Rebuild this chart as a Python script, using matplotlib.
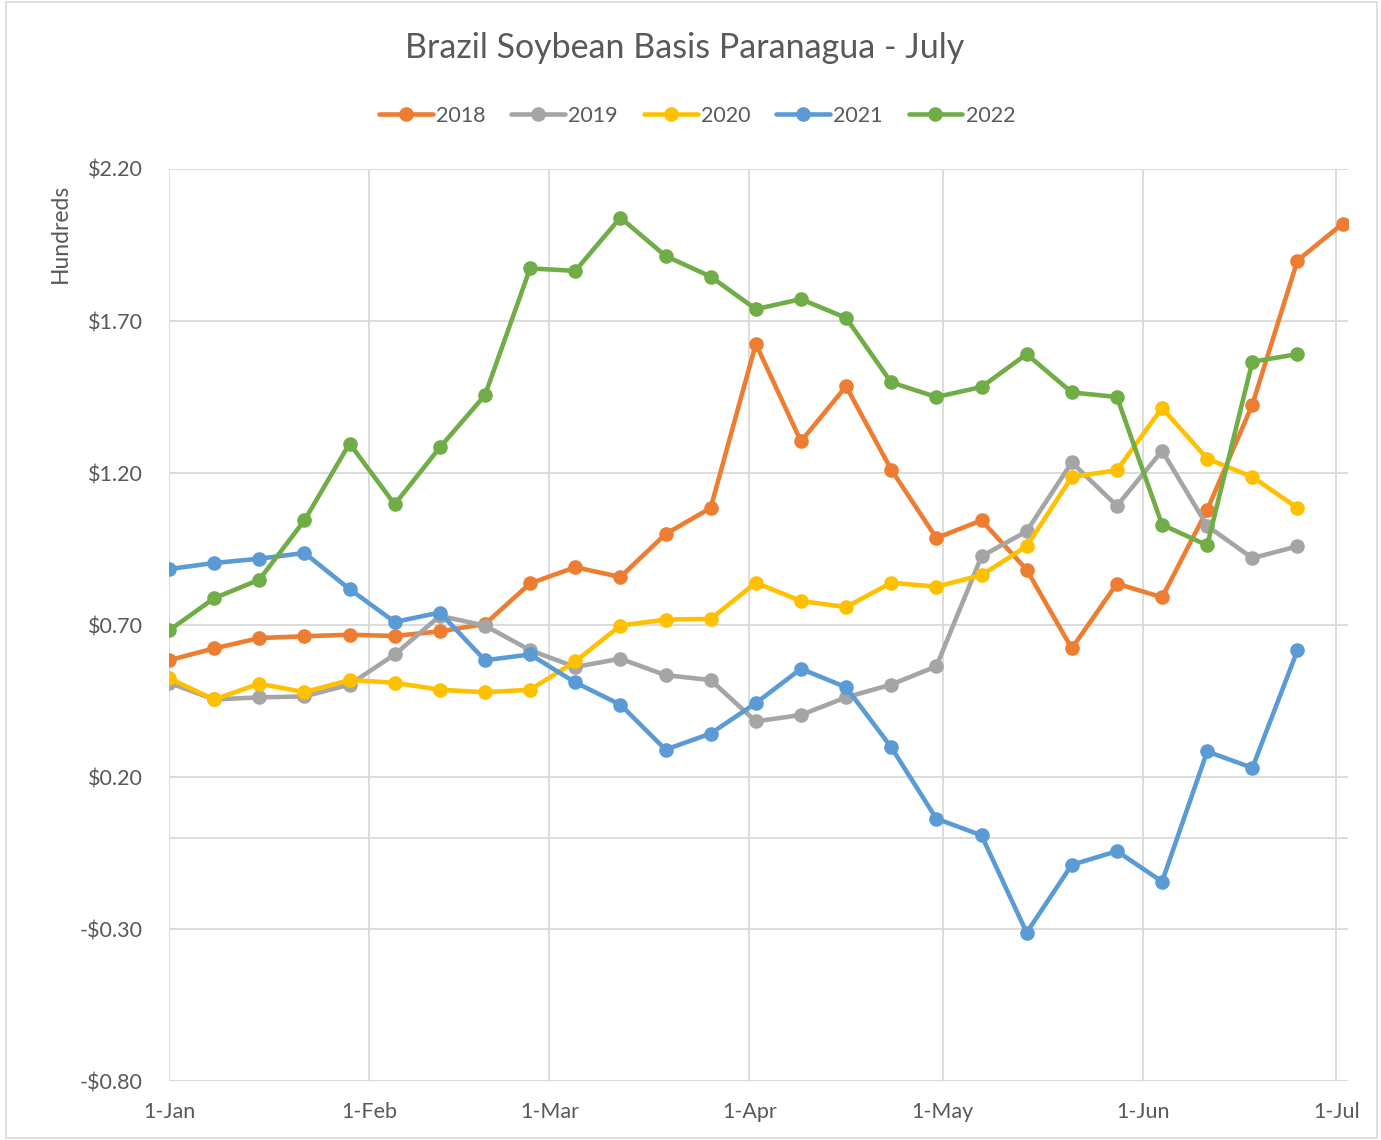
import matplotlib.pyplot as plt
import matplotlib.patches as patches
import numpy as np

plt.rcParams['font.family'] = ['Lato', 'DejaVu Sans']

# weekly observation dates (plotted on a common Jan-Jul axis)
dates = ["2022-01-01", "2022-01-08", "2022-01-15", "2022-01-22", "2022-01-29",
         "2022-02-05", "2022-02-12", "2022-02-19", "2022-02-26", "2022-03-05",
         "2022-03-12", "2022-03-19", "2022-03-26", "2022-04-02", "2022-04-09",
         "2022-04-16", "2022-04-23", "2022-04-30", "2022-05-07", "2022-05-14",
         "2022-05-21", "2022-05-28", "2022-06-04", "2022-06-11", "2022-06-18",
         "2022-06-25", "2022-07-02"]

basis_2018 = [0.584, 0.623, 0.657, 0.663, 0.668, 0.664, 0.679, 0.703, 0.837, 0.890,
              0.858, 0.999, 1.085, 1.625, 1.304, 1.485, 1.211, 0.986, 1.044, 0.882,
              0.623, 0.836, 0.791, 1.079, 1.425, 1.899, 2.020]
basis_2019 = [0.510, 0.455, 0.462, 0.465, 0.504, 0.603, 0.730, 0.698, 0.617, 0.562,
              0.589, 0.535, 0.519, 0.383, 0.404, 0.462, 0.504, 0.564, 0.926, 1.008,
              1.235, 1.092, 1.273, 1.026, 0.920, 0.959]
basis_2020 = [0.525, 0.455, 0.507, 0.479, 0.519, 0.510, 0.487, 0.479, 0.487, 0.580,
              0.698, 0.718, 0.720, 0.839, 0.779, 0.759, 0.839, 0.826, 0.864, 0.959,
              1.187, 1.209, 1.414, 1.247, 1.187, 1.085]
basis_2021 = [0.884, 0.904, 0.918, 0.937, 0.818, 0.710, 0.741, 0.584, 0.603, 0.511,
              0.438, 0.290, 0.343, 0.443, 0.556, 0.495, 0.298, 0.063, 0.008, -0.312,
              -0.089, -0.044, -0.144, 0.284, 0.230, 0.617]
basis_2022 = [0.682, 0.788, 0.849, 1.044, 1.297, 1.097, 1.284, 1.456, 1.873, 1.865,
              2.040, 1.914, 1.846, 1.739, 1.772, 1.710, 1.498, 1.450, 1.483, 1.591,
              1.465, 1.450, 1.030, 0.962, 1.566, 1.591]

series = [("2018", basis_2018, "#ED7D31"),
          ("2019", basis_2019, "#A5A5A5"),
          ("2020", basis_2020, "#FFC000"),
          ("2021", basis_2021, "#5B9BD5"),
          ("2022", basis_2022, "#70AD47")]

month_ticks = ["2022-01-01", "2022-02-01", "2022-03-01", "2022-04-01",
               "2022-05-01", "2022-06-01", "2022-07-01"]
month_labels = ["1-Jan", "1-Feb", "1-Mar", "1-Apr", "1-May", "1-Jun", "1-Jul"]
y_ticks = [-0.80, -0.30, 0.20, 0.70, 1.20, 1.70, 2.20]

x = np.array(dates, dtype="datetime64[D]")

fig = plt.figure(figsize=(13.81, 11.40), dpi=100)
ax = fig.add_axes([169 / 1381, 1 - 1081 / 1140, (1348 - 169) / 1381, (1081 - 169) / 1140])

grid_c = "#D9D9D9"
text_c = "#595959"

for name, vals, col in series:
    ax.plot(x[:len(vals)], vals, color=col, lw=3.3, marker="o", ms=9.5,
            label=name, solid_capstyle="round", zorder=3)

ax.set_xlim(np.datetime64("2022-01-01"), np.datetime64("2022-07-02T20:00"))
ax.set_ylim(-0.80, 2.20)
ax.set_yticks(y_ticks)
ax.set_yticklabels([("-$%.2f" % -v) if v < 0 else ("$%.2f" % v) for v in y_ticks])
ax.set_xticks(np.array(month_ticks, dtype="datetime64[D]"))
ax.set_xticklabels(month_labels)

ax.grid(True, color=grid_c, lw=1.3, zorder=0)
ax.axhline(0, color=grid_c, lw=1.3, zorder=1)
for s in ax.spines.values():
    s.set_visible(False)
ax.tick_params(length=0, labelsize=15.5, labelcolor=text_c)
ax.tick_params(axis="y", pad=19)
ax.tick_params(axis="x", pad=15)

fig.text(60 / 1381, 1 - 233 / 1140, "Hundreds", rotation=90, ha="center", va="center",
         fontsize=16.5, color=text_c)
fig.text(685 / 1381, 1 - 48 / 1140, "Brazil Soybean Basis Paranagua - July",
         ha="center", va="center", fontsize=24.5, color=text_c)

leg = fig.legend(loc="center", bbox_to_anchor=(697 / 1381, 1 - 116 / 1140), ncol=5,
                 frameon=False, fontsize=15.5, handlelength=2.5, handletextpad=0.15,
                 columnspacing=1.2)
for t in leg.get_texts():
    t.set_color(text_c)

fig.patches.append(patches.Rectangle((6 / 1381, 2 / 1140), 1371 / 1381, 1136 / 1140,
                                     transform=fig.transFigure, fill=False,
                                     edgecolor=grid_c, lw=1.2))

fig.savefig("out.png", dpi=100)
